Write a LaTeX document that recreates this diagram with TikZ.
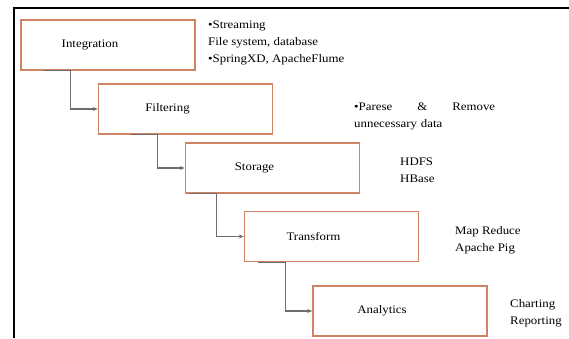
\documentclass[tikz,border=0pt]{standalone}
\usepackage{fontspec}
\setmainfont{Liberation Serif}[FakeStretch=1.12]
\usepackage{tikz}
\usetikzlibrary{arrows.meta,positioning}

\definecolor{stageline}{RGB}{208,130,100}
\definecolor{flowgray}{RGB}{110,110,110}

\begin{document}
\begin{tikzpicture}[
  x=1pt, y=-1pt,
  font=\fontsize{11.5}{17}\selectfont,
  box/.style={draw=stageline, line width=1.5pt, minimum width=174pt, minimum height=50pt, inner sep=0pt},
  stage/.style={box, label={[xshift=-18pt]center:#1}},
  note/.style={anchor=north west, align=left, inner sep=0pt},
  flow/.style={draw=flowgray, line width=1.1pt, -{Stealth[length=5pt,width=4pt]}}
]
\useasboundingbox (0,0) rectangle (569,338);
\draw[line width=2pt] (569,8) -| (14,338);

\node[stage=Integration] (integ) at (108,45) {};
\node[stage=Filtering] (filt) at (185.5,109) {};
\node[stage=Storage] (store) at (272.5,168) {};
\node[stage=Transform] (trans) at (331.5,236.5) {};
\node[stage=Analytics] (anal) at (400,311) {};

\node[note] (srcnote) at (208,21) {•Streaming\\File system, database\\•SpringXD, ApacheFlume};
\node[note, text width=141pt] (filtnote) at (354,103) {•Parese\hfill\&\hfill Remove\\unnecessary data};
\node[note] (storenote) at (400,158) {HDFS\\HBase};
\node[note] (transnote) at (455,226) {Map Reduce\\Apache Pig};
\node[note] (analnote) at (510,299) {Charting\\Reporting};

\draw[flow] ([xshift=-54pt]filt.west |- integ.south) -- ([xshift=-27pt]filt.west |- integ.south) |- (filt.west);
\draw[flow] ([xshift=-54pt]store.west |- filt.south) -- ([xshift=-27pt]store.west |- filt.south) |- (store.west);
\draw[flow] ([xshift=-54pt]trans.west |- store.south) -- ([xshift=-27pt]trans.west |- store.south) |- (trans.west);
\draw[flow] ([xshift=-54pt]anal.west |- trans.south) -- ([xshift=-27pt]anal.west |- trans.south) |- (anal.west);
\end{tikzpicture}
\end{document}
